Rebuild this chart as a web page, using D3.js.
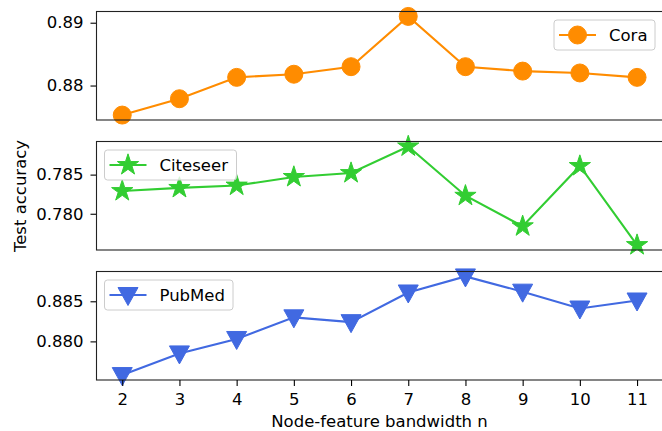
<!DOCTYPE html>
<html>
<head>
<meta charset="utf-8" />
<title>Test accuracy vs bandwidth</title>
<script src="https://d3js.org/d3.v7.min.js"></script>
<style>
  body { margin: 0; background: #fff; }
  text { font-family: "DejaVu Sans", sans-serif; fill: #000; }
</style>
</head>
<body>
<svg width="662" height="431"></svg>
<script>
// data
const bandwidth = [2, 3, 4, 5, 6, 7, 8, 9, 10, 11];
const cora = [0.8753, 0.8779, 0.8813, 0.8818, 0.8830, 0.8910, 0.8830, 0.8823, 0.8820, 0.8813];
const citeseer = [0.7829, 0.7833, 0.7836, 0.7847, 0.7852, 0.7886, 0.7823, 0.7784, 0.7861, 0.7760];
const pubmed = [0.8758, 0.8785, 0.8803, 0.8830, 0.8824, 0.8861, 0.8881, 0.8862, 0.8841, 0.8851];
const coraTicks = [0.88, 0.89];
const citeseerTicks = [0.780, 0.785];
const pubmedTicks = [0.880, 0.885];

const svg = d3.select("svg");
const left = 96.5, right = 662.8;
const fs = "16.5px";

const panels = [
  { name: "Cora", values: cora, ticks: coraTicks, fmt: ".2f", color: "#ff8c00", marker: "circle", top: 11.5, bottom: 120, lx: 554, lw: 101 },
  { name: "Citeseer", values: citeseer, ticks: citeseerTicks, fmt: ".3f", color: "#32cd32", marker: "star", top: 141.5, bottom: 250, lx: 104.5, lw: 132 },
  { name: "PubMed", values: pubmed, ticks: pubmedTicks, fmt: ".3f", color: "#4169e1", marker: "tri", top: 271.5, bottom: 380, lx: 104.5, lw: 128.5 }
];

const x = d3.scaleLinear()
  .domain([2 - 0.45, 11 + 0.45])
  .range([left, right]);

function markerPath(type) {
  if (type === "circle") return d3.symbol(d3.symbolCircle, 254)();
  if (type === "star") return d3.symbol(d3.symbolStar, 140)();
  // downward triangle
  const s = 10;
  return "M" + (-s) + "," + (-s * 0.75) + "L" + s + "," + (-s * 0.75) + "L0," + (s * 1.05) + "Z";
}

panels.forEach(function (p) {
  const lo = d3.min(p.values), hi = d3.max(p.values);
  const pad = (hi - lo) * 0.05;
  const y = d3.scaleLinear()
    .domain([lo - pad, hi + pad])
    .range([p.bottom, p.top]);

  const g = svg.append("g");

  const clipId = "clip-" + p.name;
  g.append("clipPath").attr("id", clipId)
    .append("rect")
    .attr("x", left).attr("y", p.top)
    .attr("width", right - left).attr("height", p.bottom - p.top);

  const yAxis = d3.axisLeft(y)
    .tickValues(p.ticks)
    .tickFormat(d3.format(p.fmt))
    .tickSize(6)
    .tickPadding(7);
  const ya = g.append("g")
    .attr("transform", "translate(" + left + ",0)")
    .call(yAxis);
  ya.select(".domain").remove();
  ya.selectAll("text").style("font-size", fs).style("font-family", "DejaVu Sans");
  ya.selectAll("line").attr("stroke", "#000").attr("stroke-width", 1.1);

  const plot = g.append("g").attr("clip-path", "url(#" + clipId + ")");
  const line = d3.line()
    .x(function (d, i) { return x(bandwidth[i]); })
    .y(function (d) { return y(d); });
  plot.append("path")
    .datum(p.values)
    .attr("fill", "none")
    .attr("stroke", p.color)
    .attr("stroke-width", 2.1)
    .attr("d", line);

  g.selectAll(".mk")
    .data(p.values)
    .enter()
    .append("path")
    .attr("class", "mk")
    .attr("transform", function (d, i) { return "translate(" + x(bandwidth[i]) + "," + y(d) + ")"; })
    .attr("d", markerPath(p.marker))
    .attr("fill", p.color)
    .attr("stroke", p.color)
    .attr("stroke-width", 1);

  // frame
  g.append("rect")
    .attr("x", left).attr("y", p.top)
    .attr("width", right - left).attr("height", p.bottom - p.top)
    .attr("fill", "none")
    .attr("stroke", "#222")
    .attr("stroke-width", 1.1);

  // legend
  const lg = g.append("g").attr("transform", "translate(" + p.lx + "," + (p.top + 8.5) + ")");
  lg.append("rect")
    .attr("width", p.lw).attr("height", 30)
    .attr("rx", 3)
    .attr("fill", "#fff").attr("fill-opacity", 0.8)
    .attr("stroke", "#ccc").attr("stroke-width", 1);
  lg.append("line")
    .attr("x1", 5).attr("x2", 42).attr("y1", 15).attr("y2", 15)
    .attr("stroke", p.color).attr("stroke-width", 2.1);
  lg.append("path")
    .attr("transform", "translate(23.5,15)")
    .attr("d", markerPath(p.marker))
    .attr("fill", p.color).attr("stroke", p.color);
  lg.append("text")
    .attr("x", 55).attr("y", 15).attr("dy", "0.35em")
    .style("font-size", fs)
    .text(p.name);

  if (p.name === "PubMed") {
    const xAxis = d3.axisBottom(x).tickValues(bandwidth).tickFormat(d3.format("d")).tickSize(6).tickPadding(7);
    const xa = g.append("g")
      .attr("transform", "translate(0," + p.bottom + ")")
      .call(xAxis);
    xa.select(".domain").remove();
    xa.selectAll("text").style("font-size", fs).style("font-family", "DejaVu Sans");
    xa.selectAll("line").attr("stroke", "#000").attr("stroke-width", 1.1);
  }
});

svg.append("text")
  .attr("x", 379.5)
  .attr("y", 427)
  .attr("text-anchor", "middle")
  .style("font-size", fs)
  .text("Node-feature bandwidth n");

svg.append("text")
  .attr("transform", "translate(26,196) rotate(-90)")
  .attr("text-anchor", "middle")
  .style("font-size", fs)
  .text("Test accuracy");
</script>
</body>
</html>
